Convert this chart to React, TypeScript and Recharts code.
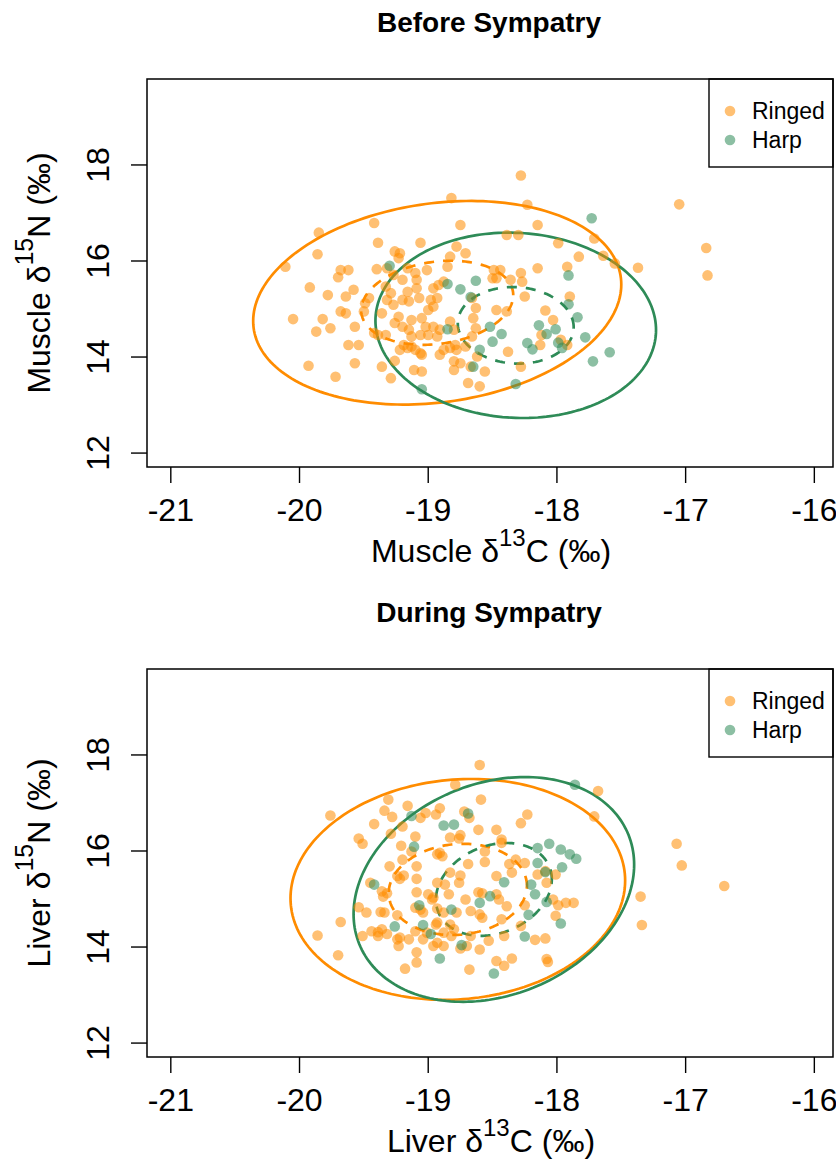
import React from 'react';
import { ScatterChart, Scatter, XAxis, YAxis, ReferenceArea, Customized } from 'recharts';

const X_TICKS = [-21, -20, -19, -18, -17, -16];
const Y_TICKS = [12, 14, 16, 18];
const X_DOMAIN = [-21.185, -15.855];
const Y_DOMAIN = [11.71, 19.79];
const SPECIES = ['Ringed', 'Harp'];
const PANEL_TITLES = ['Before Sympatry', 'During Sympatry'];
const TISSUES = ['Muscle', 'Liver'];

// [x, y] = [d13C, d15N]
const beforeRinged = [
  [-19.85, 16.59], [-19.86, 16.14], [-20.11, 15.88], [-19.70, 15.66], [-19.92, 15.45], [-19.78, 15.29], [-19.68, 14.95],
  [-20.05, 14.79], [-19.82, 14.79], [-19.87, 14.53], [-19.76, 14.60], [-19.93, 13.82], [-19.72, 13.59], [-19.64, 14.91],
  [-19.42, 16.79], [-18.75, 16.75], [-18.15, 16.75], [-19.39, 16.38], [-19.06, 16.38], [-18.39, 16.54], [-18.30, 16.54],
  [-17.99, 16.37], [-19.26, 16.20], [-19.22, 16.16], [-19.23, 16.06], [-18.78, 16.30], [-18.71, 16.16], [-18.83, 16.09],
  [-17.83, 16.09], [-19.68, 15.81], [-19.62, 15.81], [-19.40, 15.83], [-19.32, 15.85], [-19.27, 15.71], [-19.20, 15.61],
  [-19.10, 15.75], [-19.09, 15.61], [-19.16, 15.85], [-19.01, 15.81], [-18.85, 15.88], [-18.49, 15.81], [-18.44, 15.81],
  [-18.47, 15.64], [-18.50, 15.64], [-18.36, 15.61], [-18.28, 15.75], [-18.27, 15.57], [-18.15, 15.85], [-17.92, 15.88],
  [-19.58, 15.40], [-19.64, 15.26], [-19.46, 15.23], [-19.49, 15.12], [-19.50, 14.95], [-19.33, 15.47], [-19.29, 15.33],
  [-19.32, 15.19], [-19.27, 15.09], [-19.36, 14.91], [-19.16, 15.36], [-19.20, 15.19], [-19.15, 15.16], [-19.09, 15.43],
  [-19.07, 15.23], [-18.96, 15.43], [-18.92, 15.50], [-18.88, 15.57], [-18.98, 15.19], [-18.96, 15.05], [-19.00, 14.98],
  [-18.93, 15.23], [-18.66, 15.23], [-18.63, 15.02], [-18.65, 14.81], [-18.47, 14.98], [-18.39, 14.95], [-18.25, 15.26],
  [-18.09, 14.97], [-18.03, 14.77], [-18.12, 14.46], [-18.13, 14.25], [-17.90, 15.26], [-19.57, 14.63], [-19.54, 14.25],
  [-19.62, 14.25], [-19.42, 14.50], [-19.39, 14.46], [-19.33, 14.46], [-19.23, 14.84], [-19.26, 14.71], [-19.20, 14.63],
  [-19.13, 14.77], [-19.15, 14.57], [-19.13, 14.43], [-19.05, 14.81], [-19.02, 14.63], [-19.06, 14.46], [-18.96, 14.63],
  [-18.93, 14.43], [-19.00, 14.46], [-18.91, 14.57], [-18.83, 14.74], [-18.80, 14.57], [-19.19, 14.25], [-19.16, 14.19],
  [-19.13, 14.22], [-19.10, 14.15], [-19.22, 14.15], [-19.06, 14.08], [-19.05, 14.05], [-18.91, 14.05], [-18.88, 14.15],
  [-18.83, 14.19], [-18.79, 14.25], [-18.78, 14.15], [-18.71, 14.22], [-18.66, 14.43], [-18.63, 14.60], [-18.80, 13.91],
  [-18.75, 13.87], [-18.67, 13.80], [-18.56, 13.70], [-18.62, 14.01], [-18.38, 14.11], [-19.57, 13.87], [-19.36, 13.80],
  [-19.29, 13.56], [-19.11, 13.73], [-19.05, 13.70], [-18.80, 13.73], [-18.69, 13.46], [-18.60, 13.39], [-18.28, 13.80],
  [-17.97, 14.36], [-17.92, 14.25], [-19.26, 13.92], [-18.28, 17.78], [-18.82, 17.31], [-18.23, 17.17], [-17.71, 16.47],
  [-17.64, 16.11], [-17.55, 15.95], [-17.05, 17.18], [-16.84, 16.27], [-16.83, 15.70], [-17.37, 15.86],
];

const beforeHarp = [
  [-19.30, 15.90], [-18.85, 15.52], [-18.75, 15.41], [-18.63, 15.59], [-18.67, 15.25], [-17.91, 15.70], [-17.91, 15.10],
  [-17.84, 14.83], [-18.14, 14.66], [-18.08, 14.48], [-18.01, 14.58], [-18.85, 14.58], [-18.52, 14.63], [-18.43, 14.48],
  [-18.50, 14.32], [-18.23, 14.29], [-18.19, 14.16], [-17.99, 14.30], [-17.96, 14.19], [-17.78, 14.41], [-17.72, 13.91],
  [-18.60, 14.15], [-18.65, 13.80], [-18.32, 13.44], [-19.05, 13.33], [-17.73, 16.89], [-17.59, 14.10],
];

const duringRinged = [
  [-19.76, 16.74], [-19.31, 17.07], [-19.16, 16.94], [-19.34, 16.84], [-19.28, 16.71], [-19.06, 16.69], [-19.02, 16.79],
  [-18.94, 16.76], [-18.91, 16.89], [-19.42, 16.56], [-19.20, 16.51], [-19.29, 16.36], [-19.10, 16.30], [-19.54, 16.26],
  [-19.51, 16.15], [-19.21, 16.11], [-19.13, 15.99], [-18.93, 15.93], [-19.20, 15.82], [-19.30, 15.68], [-19.09, 15.68],
  [-19.24, 15.48], [-19.22, 15.42], [-19.19, 15.49], [-19.09, 15.42], [-19.45, 15.34], [-19.36, 15.16], [-19.32, 15.12],
  [-19.35, 15.05], [-19.09, 15.14], [-18.93, 15.34], [-19.00, 15.10], [-18.96, 15.03], [-19.54, 14.83], [-19.48, 14.72],
  [-19.37, 14.73], [-19.34, 14.72], [-19.24, 14.66], [-19.10, 14.82], [-19.06, 14.78], [-19.04, 14.72], [-18.93, 14.80],
  [-19.68, 14.52], [-19.86, 14.24], [-19.44, 14.33], [-19.39, 14.31], [-19.36, 14.37], [-19.32, 14.27], [-19.39, 14.23],
  [-19.51, 14.23], [-19.24, 14.16], [-19.22, 14.20], [-19.15, 14.16], [-19.10, 14.33], [-19.04, 14.16], [-19.01, 14.30],
  [-18.94, 14.47], [-19.23, 14.02], [-19.09, 13.89], [-18.96, 14.02], [-18.93, 14.09], [-19.70, 13.83], [-19.09, 13.68],
  [-19.18, 13.55], [-18.60, 17.79], [-18.79, 17.38], [-17.68, 17.25], [-18.59, 17.07], [-18.72, 16.82], [-18.68, 16.69],
  [-18.23, 16.76], [-18.28, 16.58], [-17.71, 16.72], [-18.75, 16.33], [-18.83, 16.28], [-18.76, 16.26], [-18.61, 16.44],
  [-18.47, 16.44], [-18.43, 16.24], [-18.43, 16.17], [-18.56, 15.99], [-18.91, 15.96], [-18.89, 15.89], [-18.69, 15.73],
  [-18.56, 15.77], [-18.37, 15.73], [-18.32, 15.82], [-18.25, 15.75], [-18.83, 15.55], [-18.75, 15.49], [-18.47, 15.48],
  [-18.15, 15.51], [-18.09, 15.58], [-18.01, 15.51], [-18.08, 15.34], [-18.87, 15.30], [-18.76, 15.34], [-18.35, 15.55],
  [-18.97, 14.99], [-18.84, 15.10], [-18.61, 15.14], [-18.58, 15.12], [-18.71, 14.99], [-18.47, 15.10], [-18.45, 14.99],
  [-18.03, 14.99], [-17.99, 14.87], [-17.93, 14.92], [-17.87, 14.92], [-18.39, 14.85], [-18.25, 14.87], [-18.67, 14.75],
  [-18.60, 14.68], [-18.58, 14.61], [-18.78, 14.72], [-18.88, 14.72], [-18.43, 14.58], [-18.28, 14.44], [-18.01, 14.65],
  [-18.93, 14.51], [-18.83, 14.47], [-18.88, 14.30], [-18.82, 14.23], [-18.80, 14.37], [-18.67, 14.23], [-18.41, 14.23],
  [-18.53, 14.13], [-18.17, 14.15], [-18.09, 14.18], [-18.60, 13.95], [-18.75, 13.97], [-18.70, 14.02], [-18.88, 14.02],
  [-18.47, 13.71], [-18.41, 13.61], [-18.35, 13.76], [-18.08, 13.75], [-18.07, 13.69], [-18.68, 13.53], [-17.07, 16.15],
  [-17.03, 15.70], [-16.70, 15.27], [-17.35, 15.05], [-17.34, 14.46],
];

const duringHarp = [
  [-19.13, 16.73], [-19.11, 16.09], [-19.42, 15.30], [-19.07, 14.87], [-19.26, 14.43], [-19.04, 14.46], [-18.98, 14.27],
  [-18.91, 13.76], [-17.86, 17.38], [-18.69, 16.78], [-18.88, 16.53], [-18.80, 16.55], [-18.15, 16.06], [-18.06, 16.15],
  [-17.97, 16.03], [-17.90, 15.93], [-17.85, 15.84], [-18.15, 15.75], [-17.96, 15.66], [-18.09, 15.56], [-18.41, 15.35],
  [-18.20, 15.30], [-18.52, 15.06], [-18.60, 14.92], [-18.17, 15.10], [-18.08, 14.94], [-18.82, 14.78], [-18.22, 14.67],
  [-17.97, 14.49], [-18.25, 14.22], [-18.74, 14.04], [-18.49, 13.45],
];

// ellipse: [centre x, centre y, half width, half height, correlation]
const beforeRingedEllipse = [-18.93, 15.13, 1.43, 2.12, 0.18];
const beforeHarpEllipse = [-18.32, 14.66, 1.09, 1.93, -0.05];
const duringRingedEllipse = [-18.77, 15.2, 1.3, 2.3, 0.08];
const duringHarpEllipse = [-18.49, 15.2, 1.09, 2.34, 0.22];
// standard ellipse (dashed) relative to the 95% one
const SEA_SCALE = 0.413;

const ORANGE = '#FF8C00';
const GREEN = '#2E8B57';
const FONT = '"Liberation Sans", Arial, Helvetica, sans-serif';
const W = 836;
const PLOT_TOP = 79;
const PLOT_H = 388;
const PLOT_BOTTOM = PLOT_TOP + PLOT_H;
const Y_AXIS_W = 147;

const toPoints = (rows: number[][]) => rows.map(([x, y]) => ({ x, y }));

const dot = (color: string) => (p: any) =>
  <circle cx={p.cx} cy={p.cy} r={5.3} fill={color} fillOpacity={0.55} />;

const ellipseShape = (rho: number, color: string, dashed: boolean) => (p: any) => {
  const { x, y, width, height } = p;
  const s = Math.sqrt(1 - rho * rho);
  let d = '';
  for (let i = 0; i <= 200; i++) {
    const t = (i / 200) * Math.PI * 2;
    const px = x + (width / 2) * (1 + Math.cos(t));
    const py = y + (height / 2) * (1 - (rho * Math.cos(t) + s * Math.sin(t)));
    d += (i === 0 ? 'M' : 'L') + px.toFixed(2) + ',' + py.toFixed(2);
  }
  return (
    <path d={d} fill="none" stroke={color} strokeWidth={2.7}
      strokeDasharray={dashed ? '10 9' : undefined} />);
};

const boxShape = (p: any) =>
  <rect x={p.x} y={p.y} width={p.width} height={p.height} fill="none" stroke="#000" strokeWidth={1.5} />;

const XTick = (p: any) =>
  <text x={p.x} y={PLOT_BOTTOM + 54} textAnchor="middle" fontSize={32} fontFamily={FONT} fill="#000">
    {p.payload.value}
  </text>;

const YTick = (p: any) =>
  <text x={109} y={p.y} transform={`rotate(-90 109 ${p.y})`} textAnchor="middle" fontSize={32}
    fontFamily={FONT} fill="#000">
    {p.payload.value}
  </text>;

function PanelText({ title, tissue }: { title: string; tissue: string }) {
  return (
    <g fontFamily={FONT} fill="#000">
      <text x={489} y={32} textAnchor="middle" fontSize={28} fontWeight="bold">{title}</text>
      <text x={491} y={562} textAnchor="middle" fontSize={32}>
        {tissue} δ<tspan fontSize={24} dy={-16}>13</tspan><tspan dy={16}>C (‰)</tspan>
      </text>
      <text x={50} y={273} transform="rotate(-90 50 273)" textAnchor="middle" fontSize={32}>
        {tissue} δ<tspan fontSize={25} dy={-17}>15</tspan><tspan dy={17}>N (‰)</tspan>
      </text>
      {/* legend */}
      <rect x={709} y={79} width={124} height={88} fill="#fff" stroke="#000" strokeWidth={1.4} />
      <circle cx={730} cy={111} r={5.3} fill={ORANGE} fillOpacity={0.55} />
      <circle cx={730} cy={140} r={5.3} fill={GREEN} fillOpacity={0.55} />
      <text x={752} y={119} fontSize={23}>{SPECIES[0]}</text>
      <text x={752} y={148} fontSize={23}>{SPECIES[1]}</text>
    </g>);
}

function Panel({ idx, height, ringed, harp, ringedEl, harpEl }: any) {
  const ellipses: any[] = [];
  [[ringedEl, ORANGE], [harpEl, GREEN]].forEach(([el, color]: any, k) => {
    [1, SEA_SCALE].forEach((sc, j) => {
      const [cx, cy, rx, ry, rho] = el;
      ellipses.push(
        <ReferenceArea key={`e${k}${j}`} x1={cx - rx * sc} x2={cx + rx * sc} y1={cy - ry * sc} y2={cy + ry * sc}
          ifOverflow="visible" shape={ellipseShape(rho, color, j === 1)} />);
    });
  });
  return (
    <ScatterChart width={W} height={height} margin={{ top: PLOT_TOP, right: 3, bottom: 0, left: 0 }}>
      <XAxis type="number" dataKey="x" domain={X_DOMAIN} ticks={X_TICKS} allowDataOverflow interval={0}
        axisLine={false} stroke="#000" tickSize={16} tickLine={{ stroke: '#000', strokeWidth: 1.4 }}
        tick={XTick} height={height - PLOT_TOP - PLOT_H} />
      <YAxis type="number" dataKey="y" domain={Y_DOMAIN} ticks={Y_TICKS} allowDataOverflow interval={0}
        axisLine={false} stroke="#000" tickSize={16} tickLine={{ stroke: '#000', strokeWidth: 1.4 }}
        tick={YTick} width={Y_AXIS_W} />
      <Scatter name={SPECIES[0]} data={toPoints(ringed)} shape={dot(ORANGE)} isAnimationActive={false} />
      <Scatter name={SPECIES[1]} data={toPoints(harp)} shape={dot(GREEN)} isAnimationActive={false} />
      {ellipses}
      <ReferenceArea x1={X_DOMAIN[0]} x2={X_DOMAIN[1]} y1={Y_DOMAIN[0]} y2={Y_DOMAIN[1]}
        ifOverflow="visible" shape={boxShape} />
      <Customized component={<PanelText title={PANEL_TITLES[idx]} tissue={TISSUES[idx]} />} />
    </ScatterChart>);
}

export default function App() {
  return (
    <div style={{ position: 'absolute', left: 0, top: 0, width: W, height: 1165, background: '#fff' }}>
      <Panel idx={0} height={590} ringed={beforeRinged} harp={beforeHarp}
        ringedEl={beforeRingedEllipse} harpEl={beforeHarpEllipse} />
      <Panel idx={1} height={575} ringed={duringRinged} harp={duringHarp}
        ringedEl={duringRingedEllipse} harpEl={duringHarpEllipse} />
    </div>);
}
